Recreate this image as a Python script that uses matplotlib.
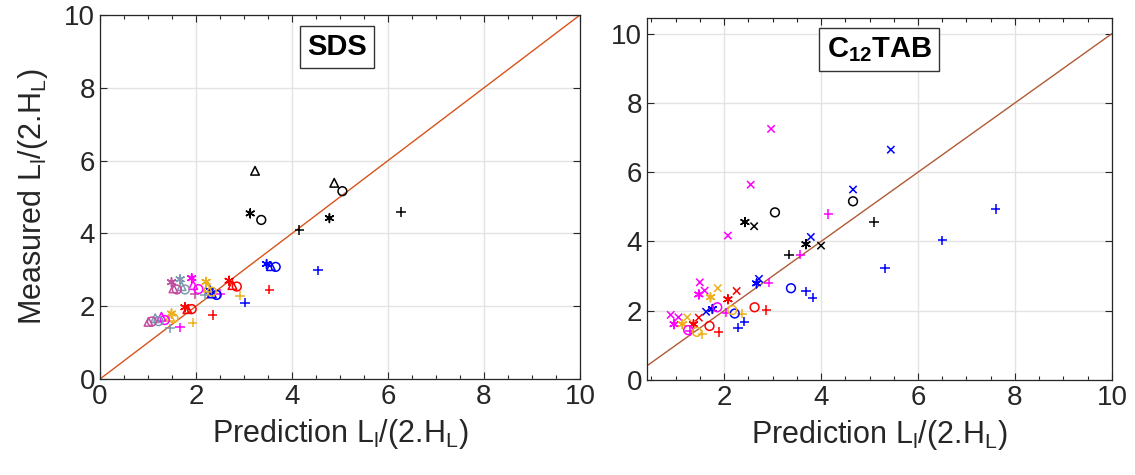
import numpy as np
import matplotlib
matplotlib.use('Agg')
import matplotlib.pyplot as plt
from matplotlib.ticker import MultipleLocator

plt.rcParams['font.family'] = ['Liberation Sans', 'DejaVu Sans']
plt.rcParams['mathtext.fontset'] = 'custom'
plt.rcParams['mathtext.rm'] = 'Liberation Sans'
plt.rcParams['mathtext.it'] = 'Liberation Sans:italic'
plt.rcParams['mathtext.bf'] = 'Liberation Sans:bold'

# ---------------- data ----------------
# SDS panel
sds_plus_x = [4.15, 6.27, 4.54, 3.02, 3.53, 2.35, 2.92, 1.93, 2.50, 1.67, 1.97, 2.19, 1.46]
sds_plus_y = [4.09, 4.59, 2.99, 2.10, 2.45, 1.76, 2.29, 1.55, 2.34, 1.42, 2.33, 2.31, 1.39]
sds_plus_grp = ['black', 'black', 'blue', 'blue', 'red', 'red', 'orange', 'orange',
                'magenta', 'magenta', 'pink', 'gray', 'gray']

sds_star_x = [3.13, 4.78, 3.47, 2.29, 2.69, 1.77, 2.21, 1.49, 1.91, 1.67, 1.49]
sds_star_y = [4.55, 4.42, 3.16, 2.43, 2.70, 1.97, 2.67, 1.80, 2.77, 2.74, 2.66]
sds_star_grp = ['black', 'black', 'blue', 'blue', 'red', 'red', 'orange', 'orange',
                'magenta', 'gray', 'pink']

sds_tri_x = [3.23, 4.88, 3.56, 2.33, 2.76, 1.82, 2.24, 1.46, 1.94, 1.28, 1.70, 1.15, 1.53, 1.01]
sds_tri_y = [5.72, 5.39, 3.10, 2.35, 2.58, 1.92, 2.51, 1.71, 2.58, 1.71, 2.55, 1.67, 2.49, 1.57]
sds_tri_grp = ['black', 'black', 'blue', 'blue', 'red', 'red', 'orange', 'orange',
               'magenta', 'magenta', 'gray', 'gray', 'pink', 'pink']

sds_circ_x = [3.36, 5.05, 3.66, 2.43, 2.85, 1.91, 2.33, 1.53, 2.05, 1.35, 1.77, 1.22, 1.60, 1.08]
sds_circ_y = [4.37, 5.16, 3.08, 2.31, 2.54, 1.92, 2.40, 1.67, 2.47, 1.62, 2.46, 1.59, 2.46, 1.58]
sds_circ_grp = ['black', 'black', 'blue', 'blue', 'red', 'red', 'orange', 'orange',
                'magenta', 'magenta', 'gray', 'gray', 'pink', 'pink']

# C12TAB panel
tab_plus_x = [5.09, 3.34, 7.60, 6.50, 5.32, 3.69, 3.83, 2.42, 2.29,
              4.15, 3.57, 2.92, 2.05, 1.29, 2.37, 1.55, 2.87, 1.89]
tab_plus_y = [4.56, 3.62, 4.94, 4.03, 3.22, 2.56, 2.38, 1.68, 1.51,
              4.79, 3.62, 2.81, 1.94, 1.41, 1.92, 1.32, 2.02, 1.39]
tab_plus_grp = ['black', 'black', 'blue', 'blue', 'blue', 'blue', 'blue', 'blue', 'blue',
                'magenta', 'magenta', 'magenta', 'magenta', 'magenta',
                'orange', 'orange', 'red', 'red']

tab_cross_x = [2.62, 4.00, 5.44, 4.66, 3.79, 2.72, 1.63,
               2.97, 2.55, 2.08, 1.50, 1.60, 0.90, 1.06, 1.87, 1.24, 2.26, 1.48]
tab_cross_y = [4.44, 3.88, 6.65, 5.50, 4.13, 2.92, 1.97,
               7.25, 5.64, 4.17, 2.82, 2.58, 1.88, 1.81, 2.65, 1.81, 2.57, 1.80]
tab_cross_grp = ['black', 'black', 'blue', 'blue', 'blue', 'blue', 'blue',
                 'magenta', 'magenta', 'magenta', 'magenta', 'magenta', 'magenta', 'magenta',
                 'orange', 'orange', 'red', 'red']

tab_star_x = [2.43, 3.69, 2.67, 1.76, 1.48, 0.97, 1.72, 1.14, 2.08, 1.37]
tab_star_y = [4.56, 3.92, 2.79, 2.05, 2.47, 1.61, 2.39, 1.61, 2.33, 1.61]
tab_star_grp = ['black', 'black', 'blue', 'blue', 'magenta', 'magenta',
                'orange', 'orange', 'red', 'red']

tab_circ_x = [3.05, 4.66, 3.38, 2.22, 1.86, 1.26, 2.17, 1.44, 2.63, 1.70]
tab_circ_y = [4.84, 5.16, 2.65, 1.92, 2.10, 1.44, 2.02, 1.39, 2.10, 1.56]
tab_circ_grp = ['black', 'black', 'blue', 'blue', 'magenta', 'magenta',
                'orange', 'orange', 'red', 'red']

ticks = [0, 2, 4, 6, 8, 10]

# ---------------- style ----------------
colours = {'black': '#000000', 'blue': '#0000FF', 'red': '#FF0000', 'orange': '#EDB120',
           'magenta': '#FF00FF', 'gray': '#7F9AB0', 'pink': '#C24C9E'}
axcol = '#262626'
asterisk = (6, 2, 0)


def draw(ax, x, y, grp, marker, filled_lines=True, s=40):
    cols = [colours[g] for g in grp]
    if filled_lines:
        ax.scatter(x, y, s=s, marker=marker, c=cols, linewidths=1.1, zorder=3)
    else:
        ax.scatter(x, y, s=s, marker=marker, facecolors='none', edgecolors=cols,
                   linewidths=1.1, zorder=3)


def style_axes(ax, xlim, ylim):
    # ticks first, limits after (set_xticks would widen the view)
    ax.set_xticks(ticks)
    ax.set_yticks(ticks)
    ax.set_xlim(*xlim)
    ax.set_ylim(*ylim)
    ax.xaxis.set_minor_locator(MultipleLocator(0.5))
    ax.grid(True, color='#E3E3E3', linewidth=1.0, zorder=0)
    ax.set_axisbelow(True)
    ax.tick_params(which='both', direction='in', top=True, right=True, colors=axcol,
                   labelsize=20, labelcolor='#262626')
    ax.tick_params(which='major', length=5, width=0.8)
    ax.tick_params(which='minor', length=3, width=0.8)
    for sp in ax.spines.values():
        sp.set_color(axcol)
        sp.set_linewidth(0.9)
    ax.set_xlabel(r'Prediction L$_\mathrm{l}$/(2.H$_\mathrm{L}$)', fontsize=22,
                  color='#262626', labelpad=5)


fig = plt.figure(figsize=(11.35, 4.75), dpi=100)

ax1 = fig.add_axes([0.0881, 0.2021, 0.4229, 0.7663])
style_axes(ax1, (0, 10), (0, 10))
ax1.plot([0, 10], [0, 10], color='#D95319', linewidth=1.0, zorder=2)
draw(ax1, sds_plus_x, sds_plus_y, sds_plus_grp, '+', s=45)
draw(ax1, sds_star_x, sds_star_y, sds_star_grp, asterisk, s=40)
draw(ax1, sds_tri_x, sds_tri_y, sds_tri_grp, '^', filled_lines=False, s=38)
draw(ax1, sds_circ_x, sds_circ_y, sds_circ_grp, 'o', filled_lines=False, s=40)
ax1.set_ylabel(r'Measured L$_\mathrm{l}$/(2.H$_\mathrm{L}$)', fontsize=22,
               color='#262626', labelpad=10)
ax1.text(4.94, 9.12, 'SDS', fontsize=21, fontweight='bold', ha='center', va='center',
         bbox=dict(boxstyle='square,pad=0.25', facecolor='white', edgecolor='#333333',
                   linewidth=1.0), zorder=5)

ax2 = fig.add_axes([0.570, 0.2, 0.4097, 0.7627])
style_axes(ax2, (0.41, 10), (0, 10.46))
ax2.plot([0, 10], [0, 10], color='#B05A36', linewidth=1.0, zorder=2)
ax2.set_xlim(0.41, 10)
draw(ax2, tab_plus_x, tab_plus_y, tab_plus_grp, '+', s=45)
draw(ax2, tab_cross_x, tab_cross_y, tab_cross_grp, 'x', s=28)
draw(ax2, tab_star_x, tab_star_y, tab_star_grp, asterisk, s=40)
draw(ax2, tab_circ_x, tab_circ_y, tab_circ_grp, 'o', filled_lines=False, s=40)
ax2.text(5.2, 9.54, r'$\mathbf{C_{12}TAB}$', fontsize=21, ha='center', va='center',
         bbox=dict(boxstyle='square,pad=0.25', facecolor='white', edgecolor='#333333',
                   linewidth=1.0), zorder=5)

fig.savefig('out.png', dpi=100)
